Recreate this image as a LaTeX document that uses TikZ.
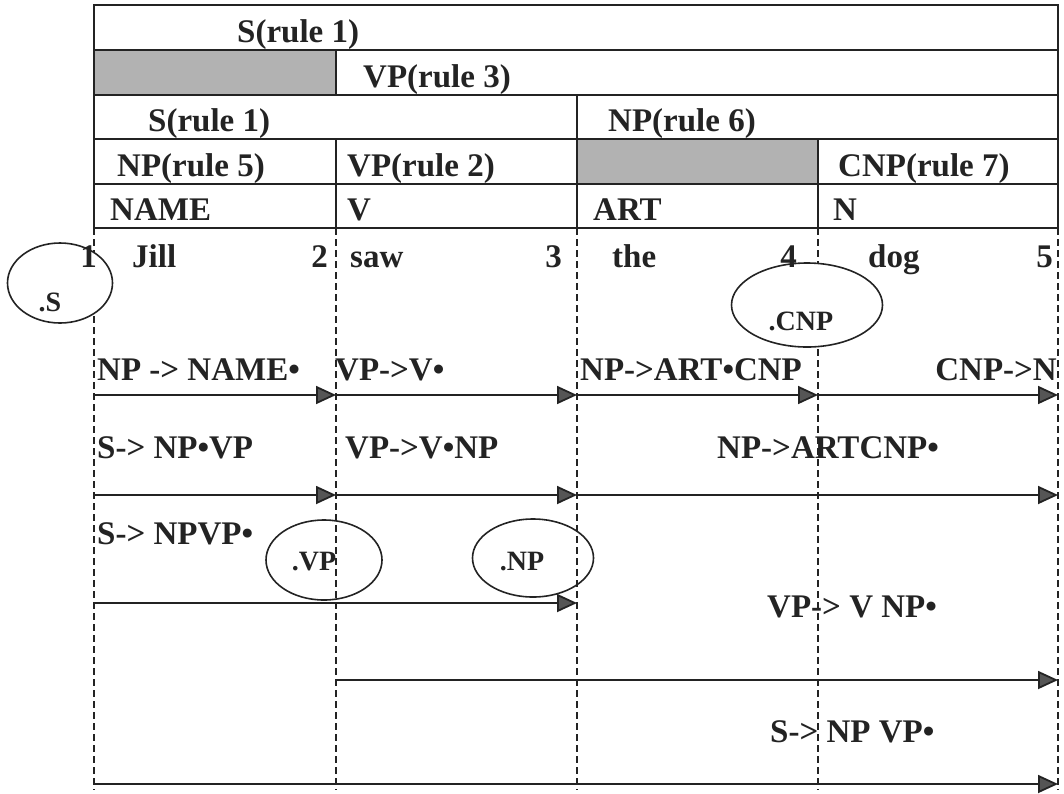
\documentclass[tikz,border=0pt]{standalone}
\usepackage{fontspec}
\setmainfont{Liberation Serif}
\usepackage{tikz}
\usetikzlibrary{arrows.meta, shapes.geometric}
\definecolor{ink}{RGB}{35, 35, 35}
\definecolor{boxgray}{RGB}{178, 178, 178}
\definecolor{tipgray}{RGB}{85, 85, 85}

\tikzset{
  cell/.style={anchor=base west, inner sep=0pt, text=ink, font=\fontsize{33}{38}\selectfont\bfseries},
  tag/.style={inner sep=0pt, text=ink, font=\fontsize{28}{32}\selectfont\bfseries},
  rule/.style={ink, line width=2pt},
  edge/.style={ink, line width=1.8pt, -{Triangle[length=20pt, width=18pt, fill=tipgray]}},
  chart/.style={ink, line width=1.6pt, dash pattern=on 7pt off 4pt},
  bubble/.style={ellipse, draw=ink, line width=1.6pt, inner sep=0pt}
}

\begin{document}
\begin{tikzpicture}[x=1pt, y=-1pt]
  \useasboundingbox (0,0) rectangle (1064,793);
  % Table - the parse tree as rows
  \fill[boxgray] (94,50) rectangle (336,94.5);
  \fill[boxgray] (577,139) rectangle (818,183.5);
  \draw[rule] (94,5) rectangle (1058,228);
  \foreach \y in {50,94.5,139,183.5}
    \draw[rule] (94,\y) -- (1058,\y);
  \draw[rule] (336,50) -- (336,94.5) (336,139) -- (336,228) (577,94.5) -- (577,228) (818,139) -- (818,228);
  \node[cell] (s1) at (237,42) {S(rule 1)};
  \node[cell] (vp3) at (363,87) {VP(rule 3)};
  \node[cell] (s1b) at (148,131) {S(rule 1)};
  \node[cell] (np6) at (608,131) {NP(rule 6)};
  \node[cell] (np5) at (117,176) {NP(rule 5)};
  \node[cell] (vp2) at (347,176) {VP(rule 2)};
  \node[cell] (cnp7) at (838,176) {CNP(rule 7)};
  \foreach \x/\t [count=\i] in {110/NAME,347/V,593/ART,833/N}
    \node[cell] (lex\i) at (\x,220) {\t};
  % Positions between the words
  \foreach \x [count=\i] in {94,336,577,818,1058} {
    \coordinate (top\i) at (\x,228);
    \coordinate (bot\i) at (\x,790);
    \foreach \r/\y in {a/395,b/495,c/603,d/680,e/784}
      \coordinate (\r\i) at (\x,\y);
  }
  \foreach \i in {1,...,5}
    \draw[chart] (top\i) -- (bot\i);
  % Arcs of the chart
  \foreach \p/\q in {a1/a2,a2/a3,a3/a4,a4/a5,b1/b2,b2/b3,b3/b5,c1/c3,d2/d5,e1/e5}
    \draw[edge] (\p) -- (\q);
  % Predictions
  \node[bubble, fill=white, minimum width=105pt, minimum height=80pt,
    label={[tag, xshift=-10pt, yshift=-19pt]center:.S}] (predS) at (60,283) {};
  \node[bubble, fill=white, minimum width=151pt, minimum height=84pt,
    label={[tag, xshift=-6pt, yshift=-16pt]center:.CNP}] (predCNP) at (807,305) {};
  \node[bubble, minimum width=116pt, minimum height=80pt,
    label={[tag, xshift=-10pt, yshift=-2pt]center:.VP}] (predVP) at (324,560) {};
  \node[bubble, minimum width=121pt, minimum height=78pt,
    label={[tag, xshift=-11pt, yshift=-4pt]center:.NP}] (predNP) at (533,558) {};
  % Words and their positions
  \foreach \x/\n in {97/1,328/2,562/3,797/4,1053/5}
    \node[cell, anchor=base east] (pos\n) at (\x,267) {\n};
  \foreach \x/\w in {132/Jill,350/saw,612/the,868/dog}
    \node[cell] (w\w) at (\x,267) {\w};
  % Edge labels
  \node[cell] (npname) at (97,380) {NP -> NAME•};
  \node[cell] (vpv) at (335,380) {VP->V•};
  \node[cell] (npart) at (580,380) {NP->ART•CNP};
  \node[cell, anchor=base east] (cnpn) at (1057,380) {CNP->N};
  \node[cell] (snp) at (97,458) {S-> NP•VP};
  \node[cell] (vpvnp) at (345,458) {VP->V•NP};
  \node[cell] (npartcnp) at (717,458) {NP->ARTCNP•};
  \node[cell] (snpvp) at (97,544) {S-> NPVP•};
  \node[cell] (vpdone) at (767,617) {VP-> V NP•};
  \node[cell] (sdone) at (770,742) {S-> NP VP•};
\end{tikzpicture}
\end{document}
